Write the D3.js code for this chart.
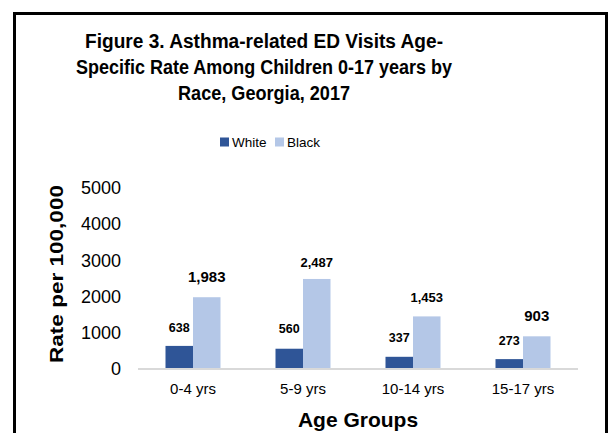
<!DOCTYPE html>
<html>
<head>
<meta charset="utf-8">
<script src="https://cdn.jsdelivr.net/npm/d3@7"></script>
<style>
  html, body { margin: 0; padding: 0; background: #fff; }
  svg { display: block; font-family: Arial, "Liberation Sans", sans-serif; }
</style>
</head>
<body>
<svg id="chart" width="610" height="433"></svg>
<script>
// Age-specific asthma ED visit rates per 100,000, Georgia 2017
const ageGroups = ["0-4 yrs", "5-9 yrs", "10-14 yrs", "15-17 yrs"];
const races = ["White", "Black"];
const whiteRates = [638, 560, 337, 273];
const blackRates = [1983, 2487, 1453, 903];
const yTicks = [0, 1000, 2000, 3000, 4000, 5000];
const titleLines = [
  "Figure 3. Asthma-related ED Visits Age-",
  "Specific Rate Among Children 0-17 years by",
  "Race, Georgia, 2017"
];

// styling
const colors = { White: "#2F5597", Black: "#B4C7E7" };
const titleWidths = [358, 376, 172];
const labelSize = { White: [12.5, 12.5, 12.5, 12.5], Black: [15, 13, 13, 15] };
const labelGap = { White: [14, 15.5, 14.5, 14], Black: [15.5, 12, 14, 15.5] };

const rows = ageGroups.map((g, i) => ({ group: g, White: whiteRates[i], Black: blackRates[i], i }));

const svg = d3.select("#chart");

// outer frame
svg.append("rect")
  .attr("x", 14.5).attr("y", 13.5)
  .attr("width", 592).attr("height", 440)
  .attr("fill", "#fff").attr("stroke", "#000").attr("stroke-width", 3);

const x0 = d3.scaleBand().domain(ageGroups).range([138, 578]).paddingInner(0.5).paddingOuter(0.25);
const x1 = d3.scaleBand().domain(races).range([0, x0.bandwidth()]);
const y = d3.scaleLinear().domain([0, 5000]).range([369, 188]);

// title (slightly tall lettering)
svg.append("g").selectAll("g").data(titleLines).join("g")
  .attr("transform", (d, i) => `translate(264,${48 + i * 26}) scale(1,1.1)`)
  .append("text")
  .attr("text-anchor", "middle")
  .attr("font-size", 18).attr("font-weight", "bold").attr("fill", "#000")
  .attr("textLength", (d, i) => titleWidths[i])
  .attr("lengthAdjust", "spacingAndGlyphs")
  .text(d => d);

// legend
const legend = svg.append("g");
const legendX = [220, 275];
races.forEach((r, i) => {
  legend.append("rect").attr("x", legendX[i]).attr("y", 137.5).attr("width", 9).attr("height", 9).attr("fill", colors[r]);
  legend.append("text").attr("x", legendX[i] + 12).attr("y", 146.5)
    .attr("font-size", 13.5).attr("fill", "#000").text(r);
});

// y axis labels
const yAxis = d3.axisLeft(y).tickValues(yTicks).tickSize(0).tickPadding(0).tickFormat(d3.format("d"));
const yg = svg.append("g").attr("transform", "translate(121,0)").call(yAxis);
yg.select(".domain").remove();
yg.selectAll("text").attr("font-size", 18).attr("fill", "#000").attr("font-family", null);

// bars
const groups = svg.append("g").selectAll("g").data(rows).join("g")
  .attr("transform", d => `translate(${x0(d.group)},0)`);

groups.selectAll("rect").data(d => races.map(r => ({ race: r, value: d[r], i: d.i }))).join("rect")
  .attr("x", d => x1(d.race))
  .attr("y", d => y(d.value))
  .attr("width", x1.bandwidth())
  .attr("height", d => y(0) - y(d.value))
  .attr("fill", d => colors[d.race]);

groups.selectAll("text.val").data(d => races.map(r => ({ race: r, value: d[r], i: d.i }))).join("text")
  .attr("class", "val")
  .attr("x", d => x1(d.race) + x1.bandwidth() / 2)
  .attr("y", d => y(d.value) - labelGap[d.race][d.i])
  .attr("text-anchor", "middle")
  .attr("font-size", d => labelSize[d.race][d.i])
  .attr("font-weight", "bold").attr("fill", "#000")
  .text(d => d3.format(",")(d.value));

// x axis
const xAxis = d3.axisBottom(x0).tickSize(0).tickPadding(0);
const xg = svg.append("g").attr("transform", `translate(0,${y(0)})`).call(xAxis);
xg.select(".domain").remove();
xg.selectAll("text").attr("font-size", 15).attr("fill", "#000").attr("font-family", null)
  .attr("dy", null).attr("y", 25);
svg.append("line")
  .attr("x1", 138).attr("x2", 578).attr("y1", y(0)).attr("y2", y(0))
  .attr("stroke", "#D9D9D9").attr("stroke-width", 2);

// axis titles
svg.append("text")
  .attr("x", 358).attr("y", 427)
  .attr("text-anchor", "middle").attr("font-size", 21).attr("font-weight", "bold")
  .text("Age Groups");

svg.append("text")
  .attr("transform", "translate(63,274) rotate(-90)")
  .attr("text-anchor", "middle").attr("font-size", 17.5).attr("font-weight", "bold")
  .attr("textLength", 178).attr("lengthAdjust", "spacingAndGlyphs")
  .text("Rate per 100,000");
</script>
</body>
</html>
